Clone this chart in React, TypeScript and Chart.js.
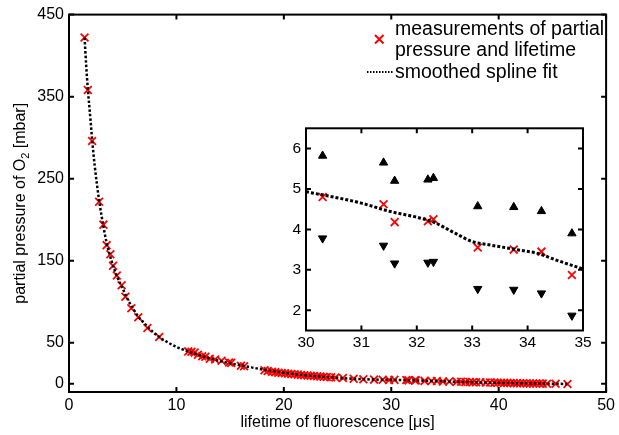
import React, { useEffect, useRef } from 'react';
import { Chart, registerables } from 'chart.js';
Chart.register(...registerables);

const FONT = '"Liberation Sans", Arial, Helvetica, sans-serif';

// ---- main plot data ----
const measX = [1.45, 1.75, 2.15, 2.8, 3.2, 3.5, 3.85, 4.1, 4.45, 4.9, 5.25, 5.8, 6.45, 7.3, 8.4,
  11.1, 11.4, 11.7, 12.0, 12.4, 12.7, 13.1, 13.6, 14.2, 14.9, 15.1, 16.0, 16.3,
  18.2, 18.5, 18.9, 19.2, 19.5, 19.8, 20.1, 20.4, 20.7, 21.0, 21.3, 21.6, 21.9, 22.2, 22.5, 22.8,
  23.1, 23.4, 23.7, 24.0, 24.4, 24.8, 25.5, 26.5, 27.4, 28.4, 29.2, 29.8,
  30.3, 31.4, 31.6, 32.2, 32.3, 33.1, 33.75, 34.25, 34.8,
  35.4, 36.1, 36.5, 36.9, 37.3, 37.6, 37.9, 38.3, 38.8, 39.2, 39.6, 39.9, 40.2, 40.5, 40.8,
  41.1, 41.4, 41.7, 42.0, 42.3, 42.6, 42.9, 43.2, 43.5, 43.8, 44.1, 44.5, 45.3, 46.4];
const measY = [422, 358, 296, 222, 194, 169, 158, 144, 132, 120, 106, 92, 81, 68, 57,
  39.5, 39, 38, 35.5, 33.5, 33, 30.5, 29.5, 28, 26, 25.5, 22, 21.5,
  16.5, 15.5, 14.8, 14.2, 13.5, 13.2, 12.8, 12.3, 12.0, 11.6, 11.2, 10.8, 10.5, 10.2, 9.8, 9.5,
  9.2, 8.9, 8.6, 8.3, 8.0, 7.6, 7.0, 6.2, 5.6, 5.1, 4.9, 4.7,
  4.8, 4.62, 4.18, 4.2, 4.25, 3.55, 3.5, 3.45, 2.87,
  2.8, 2.5, 2.4, 2.2, 2.1, 2.0, 1.9, 1.8, 1.6, 1.5, 1.4, 1.3, 1.2, 1.1, 1.0,
  0.9, 0.8, 0.75, 0.7, 0.6, 0.5, 0.45, 0.4, 0.3, 0.25, 0.2, 0.15, 0.05, -0.2];

const fitX = [1.45, 1.6, 1.75, 2.0, 2.15, 2.4, 2.8, 3.2, 3.5, 4.0, 4.5, 5.0, 5.5, 6.0, 6.5, 7.0, 7.5,
  8.0, 8.5, 9.0, 10, 11, 12, 13, 14, 15, 16, 17, 18, 19, 20, 22, 24, 26, 28, 30, 32, 34, 36, 38,
  40, 42, 44, 46.4];
const fitY = [422, 388, 360, 322, 298, 265, 224, 192, 172, 148, 130, 116, 102, 91, 81, 74, 67,
  61, 56, 52, 45, 40, 35.5, 31.5, 28, 25, 22.5, 20, 17.5, 15.5, 13.5, 10.5, 8.3, 6.5, 5.3, 4.8,
  4.25, 3.4, 2.5, 1.8, 1.2, 0.7, 0.25, -0.2];

const xTicksMain = [0, 10, 20, 30, 40, 50];
const yTicksMain = [0, 50, 150, 250, 350, 450];

// ---- inset data ----
const insetX = [30.3, 31.4, 31.6, 32.2, 32.3, 33.1, 33.75, 34.25, 34.8];
const insetY = [4.8, 4.62, 4.18, 4.2, 4.25, 3.55, 3.5, 3.45, 2.87];
const upperY = [5.82, 5.65, 5.2, 5.23, 5.27, 4.57, 4.55, 4.45, 3.9];
const lowerY = [3.78, 3.6, 3.16, 3.18, 3.2, 2.53, 2.51, 2.42, 1.87];
const fitInsetX = [30, 30.5, 31, 31.5, 32, 32.3, 32.7, 33, 33.3, 33.8, 34.2, 34.5, 35];
const fitInsetY = [4.93, 4.8, 4.65, 4.45, 4.3, 4.18, 3.9, 3.7, 3.62, 3.5, 3.4, 3.25, 3.02];
const xTicksInset = [30, 31, 32, 33, 34, 35];
const yTicksInset = [2, 3, 4, 5, 6];

const pts = (xs: number[], ys: number[]) => xs.map((x, i) => ({ x, y: ys[i] }));

function drawBox(chart: any, xt: number[], yt: number[], len: number, lw: number) {
  const { ctx, chartArea: a, scales } = chart;
  ctx.save();
  ctx.strokeStyle = '#000';
  ctx.lineWidth = lw;
  ctx.setLineDash([]);
  ctx.strokeRect(a.left, a.top, a.right - a.left, a.bottom - a.top);
  ctx.beginPath();
  xt.forEach((v) => {
    const p = scales.x.getPixelForValue(v);
    ctx.moveTo(p, a.bottom); ctx.lineTo(p, a.bottom - len);
    ctx.moveTo(p, a.top); ctx.lineTo(p, a.top + len);
  });
  yt.forEach((v) => {
    const p = scales.y.getPixelForValue(v);
    ctx.moveTo(a.left, p); ctx.lineTo(a.left + len, p);
    ctx.moveTo(a.right, p); ctx.lineTo(a.right - len, p);
  });
  ctx.stroke();
  ctx.restore();
}

const mainPlugin = {
  id: 'mainDeco',
  beforeDraw(chart: any) {
    const { ctx, width, height } = chart;
    ctx.save();
    ctx.fillStyle = '#fff';
    ctx.fillRect(0, 0, width, height);
    ctx.restore();
  },
  afterDraw(chart: any) {
    const { ctx, chartArea: a } = chart;
    drawBox(chart, xTicksMain, yTicksMain, 5, 2);
    ctx.save();
    ctx.fillStyle = '#000';
    ctx.font = `16px ${FONT}`;
    ctx.textBaseline = 'middle';
    ctx.textAlign = 'center';
    ctx.fillText('lifetime of fluorescence [\u03bcs]', (a.left + a.right) / 2, 423);
    // y title with subscript
    ctx.translate(21, (a.top + a.bottom) / 2);
    ctx.rotate(-Math.PI / 2);
    const p1 = 'partial pressure of O';
    const p2 = ' [mbar]';
    ctx.font = `16px ${FONT}`;
    const w1 = ctx.measureText(p1).width;
    const w3 = ctx.measureText(p2).width;
    ctx.font = `11px ${FONT}`;
    const w2 = ctx.measureText('2').width;
    const x0 = -(w1 + w2 + w3) / 2;
    ctx.textAlign = 'left';
    ctx.font = `16px ${FONT}`;
    ctx.fillText(p1, x0, 0);
    ctx.font = `11px ${FONT}`;
    ctx.fillText('2', x0 + w1, 5);
    ctx.font = `16px ${FONT}`;
    ctx.fillText(p2, x0 + w1 + w2, 0);
    ctx.restore();

    // legend
    ctx.save();
    ctx.fillStyle = '#000';
    ctx.font = `19.5px ${FONT}`;
    ctx.textAlign = 'left';
    ctx.textBaseline = 'alphabetic';
    ctx.fillText('measurements of partial', 395, 35);
    ctx.fillText('pressure and lifetime', 395, 56);
    ctx.fillText('smoothed spline fit', 395, 77.5);
    ctx.strokeStyle = '#ff0000';
    ctx.lineWidth = 2;
    ctx.beginPath();
    ctx.moveTo(375, 35); ctx.lineTo(383.5, 43.5);
    ctx.moveTo(383.5, 35); ctx.lineTo(375, 43.5);
    ctx.stroke();
    ctx.strokeStyle = '#000';
    ctx.lineWidth = 2;
    ctx.setLineDash([1.5, 1.5]);
    ctx.beginPath();
    ctx.moveTo(367, 72); ctx.lineTo(393, 72);
    ctx.stroke();
    ctx.restore();
  },
};

const insetPlugin = {
  id: 'insetDeco',
  beforeDatasetsDraw(chart: any) {
    const { ctx, chartArea: a } = chart;
    ctx.save();
    ctx.fillStyle = '#fff';
    ctx.fillRect(a.left, a.top, a.right - a.left, a.bottom - a.top);
    ctx.restore();
  },
  afterDraw(chart: any) {
    drawBox(chart, xTicksInset, yTicksInset, 5, 2);
  },
};

function MainChart() {
  const ref = useRef<HTMLCanvasElement>(null);
  useEffect(() => {
    const chart = new Chart(ref.current as HTMLCanvasElement, {
      type: 'line',
      data: {
        datasets: [
          {
            data: pts(fitX, fitY),
            borderColor: '#000',
            borderWidth: 2.5,
            borderDash: [2.5, 2],
            pointRadius: 0,
            cubicInterpolationMode: 'monotone',
            fill: false,
          } as any,
          {
            data: pts(measX, measY),
            showLine: false,
            pointStyle: 'crossRot',
            pointRadius: 5.5,
            borderColor: '#ff0000',
            backgroundColor: '#ff0000',
            borderWidth: 1.8,
          } as any,
        ],
      },
      plugins: [mainPlugin],
      options: {
        responsive: false,
        maintainAspectRatio: false,
        animation: false,
        events: [],
        layout: { padding: { left: 0, top: 11, right: 8, bottom: 0 } },
        plugins: { legend: { display: false }, tooltip: { enabled: false } },
        scales: {
          x: {
            type: 'linear',
            min: 0,
            max: 50,
            afterBuildTicks: (s: any) => { s.ticks = xTicksMain.map((v) => ({ value: v })); },
            afterFit: (s: any) => { s.height = 43; },
            grid: { display: false, drawTicks: false },
            border: { display: false },
            ticks: { color: '#000', font: { size: 16, family: FONT }, padding: 4, maxRotation: 0 },
          },
          y: {
            type: 'linear',
            min: -10,
            max: 450,
            afterBuildTicks: (s: any) => { s.ticks = yTicksMain.map((v) => ({ value: v })); },
            afterFit: (s: any) => { s.width = 69; },
            grid: { display: false, drawTicks: false },
            border: { display: false },
            ticks: { color: '#000', font: { size: 16, family: FONT }, padding: 5 },
          },
        },
      } as any,
    });
    return () => chart.destroy();
  }, []);
  return <canvas ref={ref} width={619} height={435} style={{ position: 'absolute', left: 0, top: 0 }} />;
}

function InsetChart() {
  const ref = useRef<HTMLCanvasElement>(null);
  useEffect(() => {
    const chart = new Chart(ref.current as HTMLCanvasElement, {
      type: 'line',
      data: {
        datasets: [
          {
            data: pts(fitInsetX, fitInsetY),
            borderColor: '#000',
            borderWidth: 3,
            borderDash: [3, 2],
            pointRadius: 0,
            cubicInterpolationMode: 'monotone',
            fill: false,
          } as any,
          {
            data: pts(insetX, insetY),
            showLine: false,
            pointStyle: 'crossRot',
            pointRadius: 5.5,
            borderColor: '#ff0000',
            backgroundColor: '#ff0000',
            borderWidth: 1.8,
          } as any,
          {
            data: pts(insetX, upperY),
            showLine: false,
            pointStyle: 'triangle',
            pointRadius: 4.8,
            borderColor: '#000',
            backgroundColor: '#000',
            borderWidth: 1,
          } as any,
          {
            data: pts(insetX, lowerY),
            showLine: false,
            pointStyle: 'triangle',
            pointRotation: 180,
            pointRadius: 4.8,
            borderColor: '#000',
            backgroundColor: '#000',
            borderWidth: 1,
          } as any,
        ],
      },
      plugins: [insetPlugin],
      options: {
        responsive: false,
        maintainAspectRatio: false,
        animation: false,
        events: [],
        layout: { padding: { left: 0, top: 10, right: 13, bottom: 0 } },
        plugins: { legend: { display: false }, tooltip: { enabled: false } },
        scales: {
          x: {
            type: 'linear',
            min: 30,
            max: 35,
            afterBuildTicks: (s: any) => { s.ticks = xTicksInset.map((v) => ({ value: v })); },
            afterFit: (s: any) => { s.height = 23.5; },
            grid: { display: false, drawTicks: false },
            border: { display: false },
            ticks: { color: '#000', font: { size: 15.5, family: FONT }, padding: 3, maxRotation: 0 },
          },
          y: {
            type: 'linear',
            min: 1.5,
            max: 6.5,
            afterBuildTicks: (s: any) => { s.ticks = yTicksInset.map((v) => ({ value: v })); },
            afterFit: (s: any) => { s.width = 30; },
            grid: { display: false, drawTicks: false },
            border: { display: false },
            ticks: { color: '#000', font: { size: 15.5, family: FONT }, padding: 5 },
          },
        },
      } as any,
    });
    return () => chart.destroy();
  }, []);
  return <canvas ref={ref} width={320} height={240} style={{ position: 'absolute', left: 276, top: 114 }} />;
}

export default function App() {
  return (
    <div style={{ position: 'fixed', left: 0, top: 0, width: 619, height: 435, background: '#fff' }}>
      <MainChart />
      <InsetChart />
    </div>
  );
}
